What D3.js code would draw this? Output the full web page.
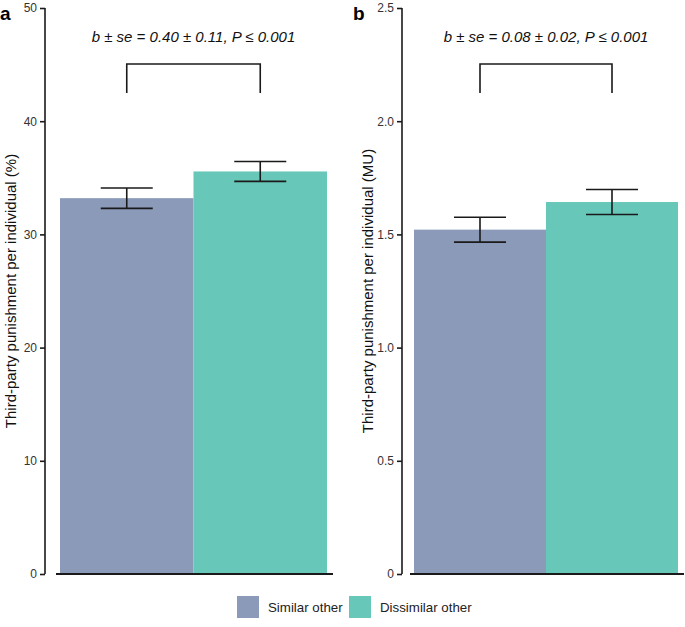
<!DOCTYPE html>
<meta charset="utf-8">
<script src="https://d3js.org/d3.v7.min.js"></script>
<style>
  body { margin: 0; background: #fff; }
  text { font-family: "Liberation Sans", Arial, sans-serif; }
</style>
<div id="my_dataviz"></div>
<script>

// data
var groups = ["Similar other", "Dissimilar other"];
var colors = ["#8a9ab8", "#67c7b8"];

var pctMean = [33.2, 35.56];
var pctSe = [0.9, 0.88];
var pctTicks = [0, 10, 20, 30, 40, 50];
var pctLabels = ["0", "10", "20", "30", "40", "50"];

var muMean = [1.521, 1.643];
var muSe = [0.055, 0.055];
var muTicks = [0, 0.5, 1.0, 1.5, 2.0, 2.5];
var muLabels = ["0", "0.5", "1.0", "1.5", "2.0", "2.5"];

var panels = [
  {tag: "a", tagX: 0, mean: pctMean, se: pctSe, ticks: pctTicks, labels: pctLabels, max: 50,
   ylab: "Third-party punishment per individual (%)",
   stat: "b ± se = 0.40 ± 0.11, P ≤ 0.001", axisX: 45, left: 56, right: 333},
  {tag: "b", tagX: 353, mean: muMean, se: muSe, ticks: muTicks, labels: muLabels, max: 2.5,
   ylab: "Third-party punishment per individual (MU)",
   stat: "b ± se = 0.08 ± 0.02, P ≤ 0.001", axisX: 402, left: 410, right: 684}
];

var W = 685, H = 627, yTop = 8, yBottom = 574;

var svg = d3.select("#my_dataviz")
  .append("svg")
    .attr("width", W)
    .attr("height", H);

panels.forEach(function(p) {
  var g = svg.append("g");

  var y = d3.scaleLinear().domain([0, p.max]).range([yBottom, yTop]);
  var x = d3.scaleBand().domain(groups).range([p.left + 4, p.right - 6]).padding(0);

  // bars
  g.selectAll(".bar")
    .data(groups)
    .enter()
    .append("rect")
      .attr("x", function(d) { return x(d); })
      .attr("y", function(d, i) { return y(p.mean[i]); })
      .attr("width", x.bandwidth())
      .attr("height", function(d, i) { return yBottom - y(p.mean[i]); })
      .attr("fill", function(d, i) { return colors[i]; });

  // error bars
  var capW = 26;
  groups.forEach(function(d, i) {
    var cx = x(d) + x.bandwidth() / 2;
    var hi = y(p.mean[i] + p.se[i]), lo = y(p.mean[i] - p.se[i]);
    g.append("line").attr("x1", cx).attr("x2", cx).attr("y1", hi).attr("y2", lo)
      .attr("stroke", "#1a1a1a").attr("stroke-width", 1.6);
    [hi, lo].forEach(function(v) {
      g.append("line").attr("x1", cx - capW).attr("x2", cx + capW).attr("y1", v).attr("y2", v)
        .attr("stroke", "#1a1a1a").attr("stroke-width", 1.6);
    });
  });

  // y axis
  var ax = g.append("g")
    .attr("transform", "translate(" + p.axisX + ",0)")
    .call(d3.axisLeft(y).tickValues(p.ticks)
      .tickFormat(function(d, i) { return p.labels[i]; })
      .tickSize(5).tickPadding(3));
  ax.select(".domain").attr("stroke", "#1a1a1a").attr("stroke-width", 1.6)
    .attr("d", "M0," + y(p.max) + "V" + y(0));
  ax.selectAll(".tick line").attr("stroke", "#1a1a1a").attr("stroke-width", 1.6);
  ax.selectAll(".tick text").attr("font-size", 12).attr("fill", "#333")
    .style("font-family", "Liberation Sans, Arial, sans-serif");

  // x axis line
  g.append("line")
    .attr("x1", p.left).attr("x2", p.right)
    .attr("y1", yBottom).attr("y2", yBottom)
    .attr("stroke", "#1a1a1a").attr("stroke-width", 2);

  // y label
  g.append("text")
    .attr("transform", "translate(" + (p.axisX - 29) + "," + ((yTop + yBottom) / 2) + ")rotate(-90)")
    .attr("text-anchor", "middle")
    .attr("font-size", 15)
    .attr("fill", "#111")
    .text(p.ylab);

  // panel tag
  g.append("text")
    .attr("x", p.tagX).attr("y", 20)
    .attr("font-size", 19).attr("font-weight", "bold")
    .text(p.tag);

  // significance bracket
  var c0 = x(groups[0]) + x.bandwidth() / 2, c1 = x(groups[1]) + x.bandwidth() / 2;
  g.append("path")
    .attr("d", "M" + c0 + ",93V64H" + c1 + "V93")
    .attr("fill", "none").attr("stroke", "#1a1a1a").attr("stroke-width", 1.6);
  g.append("text")
    .attr("x", (c0 + c1) / 2).attr("y", 42)
    .attr("text-anchor", "middle")
    .attr("font-size", 15).attr("font-style", "italic")
    .attr("fill", "#111")
    .text(p.stat);
});

// legend
var legX = [237, 349];
groups.forEach(function(d, i) {
  svg.append("rect")
    .attr("x", legX[i]).attr("y", 596)
    .attr("width", 22).attr("height", 22)
    .attr("fill", colors[i]);
  svg.append("text")
    .attr("x", legX[i] + 31).attr("y", 612)
    .attr("font-size", 13.3).attr("fill", "#222")
    .text(d);
});

</script>
